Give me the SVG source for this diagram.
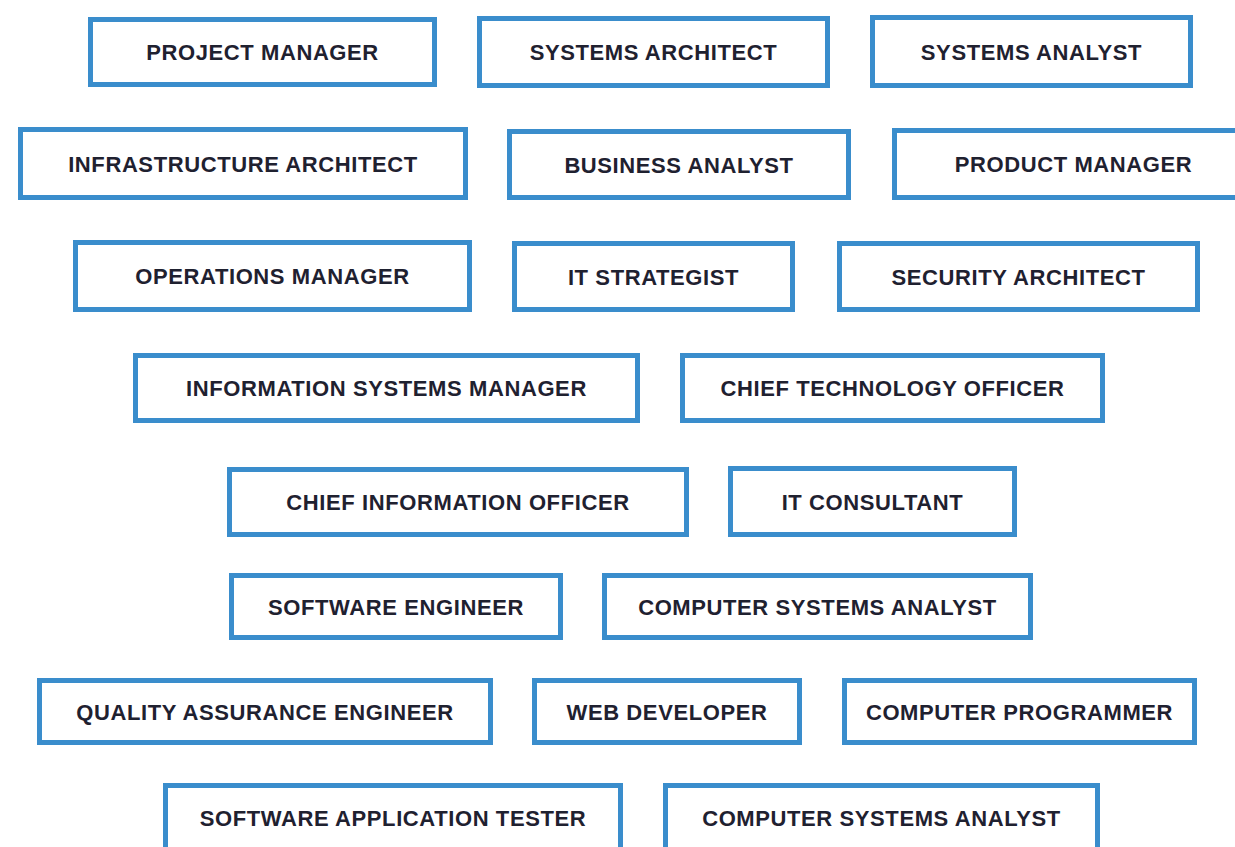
<svg xmlns="http://www.w3.org/2000/svg" width="1235" height="847" viewBox="0 0 1235 847">
<style>
.box{fill:#ffffff;stroke:#3a8dcc;stroke-width:5}
.lbl{font-family:"Liberation Sans",Arial,sans-serif;font-weight:bold;font-size:22px;letter-spacing:0.6px;fill:#1f2130;text-anchor:middle}
</style>
<rect width="1235" height="847" fill="#ffffff"/>
<g id="connectors"></g>
<g id="n1"><rect class="box" x="90.5" y="19.5" width="344" height="65"/><text class="lbl" x="262.5" y="60">PROJECT MANAGER</text></g>
<g id="n2"><rect class="box" x="479.5" y="18.5" width="348" height="67"/><text class="lbl" x="653.5" y="60">SYSTEMS ARCHITECT</text></g>
<g id="n3"><rect class="box" x="872.5" y="17.5" width="318" height="68"/><text class="lbl" x="1031.5" y="59.5">SYSTEMS ANALYST</text></g>
<g id="n4"><rect class="box" x="20.5" y="129.5" width="445" height="68"/><text class="lbl" x="243" y="171.5">INFRASTRUCTURE ARCHITECT</text></g>
<g id="n5"><rect class="box" x="509.5" y="131.5" width="339" height="66"/><text class="lbl" x="679" y="172.5">BUSINESS ANALYST</text></g>
<g id="n6"><rect class="box" x="894.5" y="130.5" width="358" height="67"/><text class="lbl" x="1073.5" y="172">PRODUCT MANAGER</text></g>
<g id="n7"><rect class="box" x="75.5" y="242.5" width="394" height="67"/><text class="lbl" x="272.5" y="284">OPERATIONS MANAGER</text></g>
<g id="n8"><rect class="box" x="514.5" y="243.5" width="278" height="66"/><text class="lbl" x="653.5" y="284.5">IT STRATEGIST</text></g>
<g id="n9"><rect class="box" x="839.5" y="243.5" width="358" height="66"/><text class="lbl" x="1018.5" y="284.5">SECURITY ARCHITECT</text></g>
<g id="n10"><rect class="box" x="135.5" y="355.5" width="502" height="65"/><text class="lbl" x="386.5" y="396">INFORMATION SYSTEMS MANAGER</text></g>
<g id="n11"><rect class="box" x="682.5" y="355.5" width="420" height="65"/><text class="lbl" x="892.5" y="396">CHIEF TECHNOLOGY OFFICER</text></g>
<g id="n12"><rect class="box" x="229.5" y="469.5" width="457" height="65"/><text class="lbl" x="458" y="510">CHIEF INFORMATION OFFICER</text></g>
<g id="n13"><rect class="box" x="730.5" y="468.5" width="284" height="66"/><text class="lbl" x="872.5" y="509.5">IT CONSULTANT</text></g>
<g id="n14"><rect class="box" x="231.5" y="575.5" width="329" height="62"/><text class="lbl" x="396" y="614.5">SOFTWARE ENGINEER</text></g>
<g id="n15"><rect class="box" x="604.5" y="575.5" width="426" height="62"/><text class="lbl" x="817.5" y="614.5">COMPUTER SYSTEMS ANALYST</text></g>
<g id="n16"><rect class="box" x="39.5" y="680.5" width="451" height="62"/><text class="lbl" x="265" y="719.5">QUALITY ASSURANCE ENGINEER</text></g>
<g id="n17"><rect class="box" x="534.5" y="680.5" width="265" height="62"/><text class="lbl" x="667" y="719.5">WEB DEVELOPER</text></g>
<g id="n18"><rect class="box" x="844.5" y="680.5" width="350" height="62"/><text class="lbl" x="1019.5" y="719.5">COMPUTER PROGRAMMER</text></g>
<g id="n19"><rect class="box" x="165.5" y="785.5" width="455" height="64"/><text class="lbl" x="393" y="825.5">SOFTWARE APPLICATION TESTER</text></g>
<g id="n20"><rect class="box" x="665.5" y="785.5" width="432" height="64"/><text class="lbl" x="881.5" y="825.5">COMPUTER SYSTEMS ANALYST</text></g>
</svg>
